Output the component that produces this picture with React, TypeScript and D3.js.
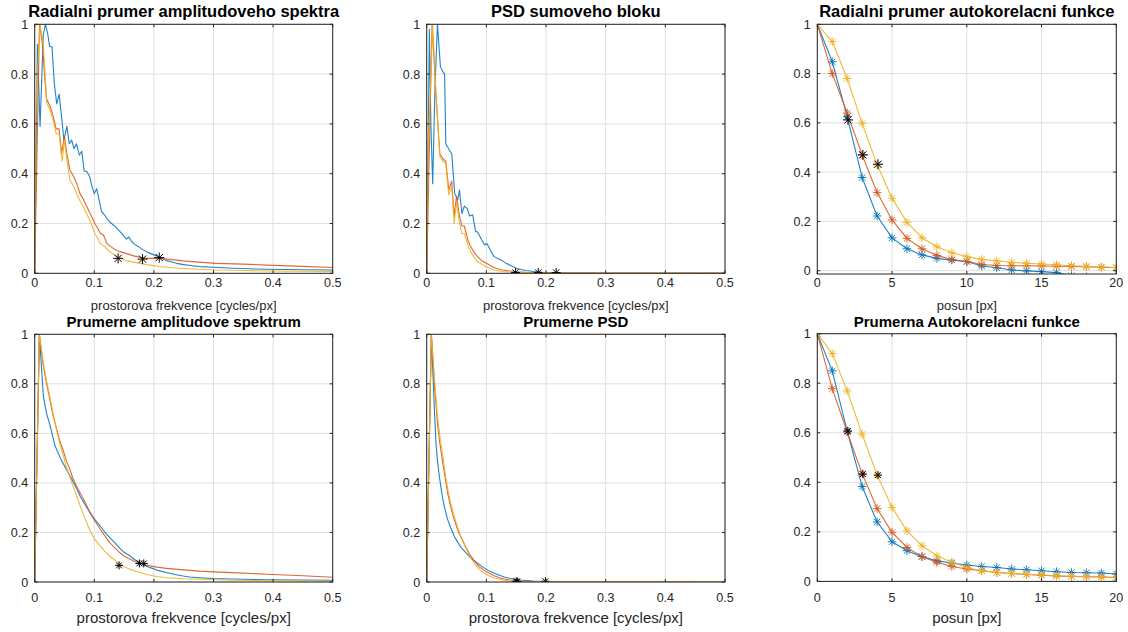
import React from 'react';
import * as d3 from 'd3';

type Pt = [number, number];

const BLUE = '#0072BD';
const RED = '#D95319';
const YELLOW = '#EDB120';
const FONT = '"Liberation Sans", Arial, Helvetica, sans-serif';

// ---------- Panel 1: Radialni prumer amplitudoveho spektra ----------
const ampRadBlue: Pt[] = [[0,0],[0.0045,0.92],[0.009,0.59],[0.0145,0.96],[0.018,1.0],[0.022,0.96],[0.025,0.91],[0.029,0.91],[0.033,0.76],[0.037,0.68],[0.041,0.72],[0.045,0.63],[0.049,0.535],[0.054,0.59],[0.058,0.52],[0.062,0.535],[0.066,0.50],[0.070,0.52],[0.075,0.475],[0.079,0.49],[0.083,0.41],[0.087,0.41],[0.092,0.39],[0.096,0.35],[0.100,0.32],[0.104,0.34],[0.108,0.295],[0.112,0.25],[0.117,0.235],[0.121,0.22],[0.125,0.21],[0.129,0.20],[0.134,0.19],[0.138,0.18],[0.142,0.17],[0.146,0.16],[0.150,0.148],[0.154,0.137],[0.158,0.146],[0.162,0.13],[0.166,0.12],[0.170,0.113],[0.174,0.107],[0.178,0.10],[0.182,0.094],[0.188,0.086],[0.194,0.08],[0.2,0.074],[0.205,0.07],[0.213,0.06],[0.221,0.051],[0.23,0.045],[0.238,0.04],[0.25,0.035],[0.265,0.03],[0.277,0.027],[0.3,0.024],[0.333,0.02],[0.36,0.018],[0.389,0.016],[0.42,0.015],[0.45,0.014],[0.5,0.013]];
const ampRadRed: Pt[] = [[0,0],[0.008,1.0],[0.013,0.92],[0.017,0.78],[0.02,0.70],[0.026,0.67],[0.031,0.63],[0.036,0.58],[0.041,0.58],[0.045,0.48],[0.050,0.55],[0.054,0.48],[0.059,0.415],[0.064,0.395],[0.068,0.375],[0.072,0.35],[0.076,0.32],[0.081,0.30],[0.085,0.28],[0.089,0.26],[0.093,0.24],[0.097,0.22],[0.101,0.20],[0.106,0.18],[0.110,0.16],[0.115,0.155],[0.118,0.14],[0.121,0.12],[0.126,0.11],[0.132,0.10],[0.138,0.092],[0.143,0.087],[0.15,0.082],[0.158,0.076],[0.166,0.07],[0.177,0.064],[0.188,0.06],[0.2,0.06],[0.210,0.06],[0.23,0.055],[0.249,0.05],[0.275,0.045],[0.305,0.04],[0.35,0.037],[0.389,0.033],[0.45,0.028],[0.5,0.023]];
const ampRadYellow: Pt[] = [[0,0],[0.0025,0.72],[0.009,1.0],[0.0145,0.92],[0.018,0.78],[0.02,0.685],[0.026,0.655],[0.031,0.615],[0.036,0.56],[0.041,0.56],[0.046,0.45],[0.050,0.535],[0.054,0.455],[0.059,0.375],[0.064,0.355],[0.068,0.335],[0.072,0.31],[0.076,0.29],[0.081,0.27],[0.085,0.25],[0.089,0.23],[0.093,0.21],[0.097,0.185],[0.101,0.16],[0.106,0.14],[0.110,0.12],[0.114,0.113],[0.118,0.107],[0.122,0.095],[0.126,0.087],[0.132,0.076],[0.138,0.067],[0.146,0.058],[0.154,0.051],[0.165,0.045],[0.177,0.04],[0.19,0.034],[0.21,0.027],[0.23,0.022],[0.249,0.019],[0.275,0.016],[0.305,0.013],[0.35,0.011],[0.389,0.009],[0.45,0.008],[0.5,0.007]];
const ampRadMarks: Pt[] = [[0.140,0.06],[0.181,0.057],[0.209,0.063]];

// ---------- Panel 2: PSD sumoveho bloku ----------
const psdRadBlue: Pt[] = [[0,0],[0.0045,0.98],[0.007,0.6],[0.010,0.36],[0.014,0.75],[0.018,1.0],[0.023,0.83],[0.027,0.81],[0.030,0.80],[0.032,0.52],[0.038,0.495],[0.042,0.48],[0.047,0.32],[0.052,0.295],[0.055,0.335],[0.059,0.24],[0.063,0.27],[0.068,0.26],[0.072,0.23],[0.077,0.235],[0.082,0.167],[0.085,0.167],[0.091,0.14],[0.097,0.114],[0.101,0.12],[0.108,0.087],[0.113,0.067],[0.12,0.058],[0.127,0.05],[0.133,0.04],[0.139,0.033],[0.145,0.026],[0.150,0.02],[0.158,0.015],[0.166,0.011],[0.18,0.007],[0.194,0.004],[0.22,0.002],[0.25,0.001],[0.35,0.0005],[0.5,0]];
const psdRadRed: Pt[] = [[0,0],[0.009,1.0],[0.016,0.70],[0.022,0.48],[0.027,0.46],[0.032,0.45],[0.037,0.335],[0.042,0.37],[0.046,0.23],[0.050,0.31],[0.055,0.23],[0.059,0.19],[0.063,0.19],[0.069,0.134],[0.073,0.11],[0.077,0.094],[0.081,0.08],[0.085,0.067],[0.090,0.056],[0.094,0.047],[0.1,0.04],[0.105,0.033],[0.11,0.026],[0.116,0.02],[0.127,0.013],[0.139,0.009],[0.15,0.006],[0.166,0.004],[0.2,0.002],[0.3,0.001],[0.5,0.001]];
const psdRadYellow: Pt[] = [[0,0],[0.0025,0.5],[0.010,1.0],[0.016,0.70],[0.022,0.47],[0.027,0.45],[0.032,0.44],[0.037,0.315],[0.042,0.35],[0.046,0.20],[0.050,0.285],[0.055,0.20],[0.059,0.16],[0.063,0.16],[0.069,0.114],[0.073,0.09],[0.077,0.074],[0.081,0.06],[0.085,0.047],[0.09,0.04],[0.094,0.033],[0.1,0.026],[0.105,0.02],[0.11,0.015],[0.116,0.011],[0.127,0.007],[0.139,0.005],[0.16,0.003],[0.2,0.001],[0.5,0]];
const psdRadMarks: Pt[] = [[0.149,0.003],[0.187,0.003],[0.217,0.003]];

// ---------- Panel 3: Radialni prumer autokorelacni funkce ----------
const lags = [0,1,2,3,4,5,6,7,8,9,10,11,12,13,14,15,16,17,18,19,20];
const acRadBlue = [1,0.848,0.625,0.378,0.222,0.133,0.089,0.064,0.05,0.043,0.037,0.019,0.012,0.003,-0.001,-0.004,-0.008,-0.02,-0.025,-0.03,-0.03];
const acRadRed = [1,0.80,0.64,0.47,0.317,0.206,0.131,0.089,0.062,0.045,0.037,0.025,0.021,0.02,0.02,0.019,0.018,0.017,0.016,0.014,0.013];
const acRadYellow = [1,0.93,0.78,0.598,0.43,0.294,0.196,0.134,0.097,0.073,0.057,0.046,0.04,0.034,0.03,0.027,0.024,0.02,0.018,0.015,0.013];
const acRadMarks: Pt[] = [[2.05,0.612],[3.05,0.47],[4.06,0.432]];

// ---------- Panel 4: Prumerne amplitudove spektrum ----------
const ampMeanBlue: Pt[] = [[0,0],[0.0078,1.0],[0.0145,0.75],[0.02,0.68],[0.026,0.63],[0.034,0.55],[0.045,0.49],[0.059,0.43],[0.07,0.38],[0.076,0.347],[0.085,0.31],[0.093,0.28],[0.1,0.255],[0.110,0.226],[0.118,0.2],[0.126,0.179],[0.135,0.157],[0.143,0.136],[0.15,0.12],[0.160,0.105],[0.168,0.09],[0.177,0.078],[0.185,0.067],[0.194,0.058],[0.205,0.048],[0.221,0.038],[0.235,0.03],[0.249,0.024],[0.26,0.02],[0.277,0.017],[0.3,0.014],[0.333,0.012],[0.389,0.009],[0.45,0.008],[0.5,0.007]];
const ampMeanRed: Pt[] = [[0,0],[0.0078,1.0],[0.0145,0.87],[0.02,0.80],[0.026,0.73],[0.031,0.67],[0.037,0.616],[0.042,0.57],[0.048,0.53],[0.053,0.49],[0.059,0.455],[0.064,0.42],[0.070,0.388],[0.076,0.36],[0.082,0.334],[0.088,0.305],[0.093,0.28],[0.1,0.25],[0.110,0.213],[0.118,0.185],[0.126,0.159],[0.135,0.137],[0.143,0.118],[0.150,0.105],[0.160,0.092],[0.168,0.083],[0.177,0.075],[0.185,0.07],[0.194,0.065],[0.205,0.06],[0.221,0.055],[0.25,0.049],[0.277,0.044],[0.3,0.041],[0.333,0.038],[0.389,0.031],[0.45,0.025],[0.5,0.019]];
const ampMeanYellow: Pt[] = [[0,0],[0.0078,1.0],[0.0145,0.885],[0.02,0.81],[0.026,0.74],[0.031,0.68],[0.037,0.61],[0.042,0.56],[0.048,0.51],[0.053,0.465],[0.059,0.425],[0.064,0.39],[0.070,0.35],[0.076,0.31],[0.082,0.27],[0.088,0.235],[0.093,0.206],[0.1,0.175],[0.110,0.145],[0.118,0.123],[0.126,0.105],[0.135,0.087],[0.143,0.071],[0.150,0.062],[0.160,0.051],[0.168,0.044],[0.177,0.038],[0.185,0.032],[0.194,0.027],[0.205,0.022],[0.221,0.017],[0.25,0.013],[0.277,0.011],[0.333,0.007],[0.4,0.005],[0.5,0.003]];
const ampMeanMarks: Pt[] = [[0.1415,0.067],[0.1756,0.075],[0.183,0.075]];

// ---------- Panel 5: Prumerne PSD ----------
const psdMeanBlue: Pt[] = [[0,0],[0.0078,1.0],[0.0128,0.70],[0.0156,0.56],[0.018,0.49],[0.021,0.43],[0.024,0.38],[0.027,0.334],[0.031,0.29],[0.035,0.253],[0.04,0.22],[0.046,0.186],[0.052,0.16],[0.058,0.139],[0.065,0.12],[0.072,0.102],[0.08,0.085],[0.088,0.071],[0.096,0.057],[0.105,0.044],[0.113,0.035],[0.122,0.027],[0.13,0.02],[0.139,0.015],[0.147,0.011],[0.155,0.008],[0.166,0.006],[0.178,0.004],[0.2,0.002],[0.222,0.001],[0.3,0.0005],[0.5,0]];
const psdMeanRed: Pt[] = [[0,0],[0.0078,1.0],[0.0128,0.805],[0.018,0.64],[0.022,0.56],[0.027,0.48],[0.031,0.42],[0.035,0.36],[0.04,0.305],[0.046,0.253],[0.052,0.21],[0.058,0.179],[0.065,0.143],[0.072,0.112],[0.08,0.085],[0.088,0.062],[0.096,0.047],[0.105,0.035],[0.113,0.025],[0.122,0.0175],[0.13,0.012],[0.139,0.008],[0.155,0.004],[0.18,0.002],[0.25,0.001],[0.5,0]];
const psdMeanYellow: Pt[] = [[0,0],[0.0078,1.0],[0.0128,0.83],[0.018,0.67],[0.022,0.59],[0.027,0.51],[0.031,0.44],[0.035,0.38],[0.04,0.32],[0.046,0.266],[0.052,0.22],[0.058,0.179],[0.065,0.14],[0.072,0.105],[0.08,0.075],[0.088,0.051],[0.096,0.036],[0.105,0.024],[0.113,0.016],[0.122,0.011],[0.13,0.007],[0.139,0.004],[0.155,0.002],[0.2,0.001],[0.5,0]];
const psdMeanMarks: Pt[] = [[0.150,0.003],[0.152,0.002],[0.199,0.003]];

// ---------- Panel 6: Prumerna Autokorelacni funkce ----------
const acMeanBlue = [1,0.85,0.607,0.383,0.24,0.16,0.124,0.10,0.083,0.074,0.066,0.06,0.056,0.05,0.047,0.043,0.039,0.036,0.035,0.034,0.03];
const acMeanRed = [1,0.778,0.603,0.435,0.294,0.198,0.137,0.10,0.077,0.06,0.05,0.043,0.036,0.032,0.028,0.025,0.022,0.02,0.019,0.018,0.016];
const acMeanYellow = [1,0.92,0.769,0.594,0.43,0.298,0.204,0.144,0.103,0.077,0.056,0.043,0.036,0.032,0.029,0.026,0.023,0.021,0.02,0.018,0.016];
const acMeanMarks: Pt[] = [[2.05,0.607],[3.05,0.433],[4.06,0.429]];

// ---------- Axis ticks & labels ----------
const freqTicks = [0, 0.1, 0.2, 0.3, 0.4, 0.5];
const lagTicks = [0, 5, 10, 15, 20];
const valueTicks = [0, 0.2, 0.4, 0.6, 0.8, 1];
const titles = [
  'Radialni prumer amplitudoveho spektra',
  'PSD sumoveho bloku',
  'Radialni prumer autokorelacni funkce',
  'Prumerne amplitudove spektrum',
  'Prumerne PSD',
  'Prumerna Autokorelacni funkce',
];
const freqLabel = 'prostorova frekvence [cycles/px]';
const lagLabel = 'posun [px]';

const toPts = (xs: number[], ys: number[]): Pt[] => xs.map((v, i) => [v, ys[i]] as Pt);

function asterisk(r: number) {
  const d = r * 0.72;
  return `M${-r},0L${r},0M0,${-r}L0,${r}M${-d},${-d}L${d},${d}M${-d},${d}L${d},${-d}`;
}

type Series = { pts: Pt[]; color: string; marker?: boolean };

type PanelProps = {
  id: string;
  left: number; top: number; width: number; height: number;
  xDomain: [number, number]; yDomain: [number, number];
  xTicks: number[]; yTicks: number[];
  title: string; titleSize: number; titleY: number;
  xlabel: string; xlabelSize: number; xlabelY: number;
  tickSize: number; xTickY: number;
  series: Series[];
  marks: Pt[]; markR: number; seriesMarkR: number;
};

function Panel(p: PanelProps) {
  const x = d3.scaleLinear().domain(p.xDomain).range([p.left, p.left + p.width]);
  const y = d3.scaleLinear().domain(p.yDomain).range([p.top + p.height, p.top]);
  const line = d3.line<Pt>().x(d => x(d[0])).y(d => y(d[1]));
  const cx = p.left + p.width / 2;
  const bottom = p.top + p.height;
  const right = p.left + p.width;
  const tl = 3;
  const axisColor = '#262626';
  return (
    <g>
      <defs>
        <clipPath id={p.id}>
          <rect x={p.left} y={p.top} width={p.width} height={p.height} />
        </clipPath>
      </defs>
      {p.xTicks.map(t => (
        <line key={'gx' + t} x1={x(t)} x2={x(t)} y1={p.top} y2={bottom} stroke="#dedede" strokeWidth={1} />
      ))}
      {p.yTicks.map(t => (
        <line key={'gy' + t} x1={p.left} x2={right} y1={y(t)} y2={y(t)} stroke="#dedede" strokeWidth={1} />
      ))}
      <g clipPath={`url(#${p.id})`}>
        {p.series.map((s, i) => (
          <g key={'s' + i}>
            <path d={line(s.pts) || ''} fill="none" stroke={s.color} strokeOpacity={0.88} strokeWidth={1.1} strokeLinejoin="round" />
            {s.marker && s.pts.map((d, j) => (
              <path key={j} d={asterisk(p.seriesMarkR)} transform={`translate(${x(d[0])},${y(d[1])})`} stroke={s.color} strokeOpacity={0.9} strokeWidth={1} fill="none" />
            ))}
          </g>
        ))}
        {p.marks.map((d, j) => (
          <path key={'m' + j} d={asterisk(p.markR)} transform={`translate(${x(d[0])},${y(d[1])})`} stroke="#000" strokeWidth={1} fill="none" />
        ))}
      </g>
      <rect x={p.left} y={p.top} width={p.width} height={p.height} fill="none" stroke={axisColor} strokeWidth={1} />
      {p.xTicks.map(t => (
        <g key={'tx' + t}>
          <line x1={x(t)} x2={x(t)} y1={bottom} y2={bottom - tl} stroke={axisColor} />
          <line x1={x(t)} x2={x(t)} y1={p.top} y2={p.top + tl} stroke={axisColor} />
          <text x={x(t)} y={p.xTickY} textAnchor="middle" fontSize={p.tickSize} fill="#262626" fontFamily={FONT}>{String(t)}</text>
        </g>
      ))}
      {p.yTicks.map(t => (
        <g key={'ty' + t}>
          <line x1={p.left} x2={p.left + tl} y1={y(t)} y2={y(t)} stroke={axisColor} />
          <line x1={right} x2={right - tl} y1={y(t)} y2={y(t)} stroke={axisColor} />
          <text x={p.left - 6.5} y={y(t)} dy="0.36em" textAnchor="end" fontSize={p.tickSize} fill="#262626" fontFamily={FONT}>{String(t)}</text>
        </g>
      ))}
      <text x={cx} y={p.titleY} textAnchor="middle" fontSize={p.titleSize} fontWeight="bold" fill="#000" fontFamily={FONT}>{p.title}</text>
      <text x={cx} y={p.xlabelY} textAnchor="middle" fontSize={p.xlabelSize} fill="#262626" fontFamily={FONT}>{p.xlabel}</text>
    </g>
  );
}

export default function App() {
  const colLeft = [34.7, 426.7, 817.3];
  const colWidth = [298, 298.3, 299];
  const topRow = { top: 24.3, height: 249, titleSize: 16.5, titleY: 16.5, xlabelSize: 13, xlabelY: 310, tickSize: 12.5, xTickY: 286.5 };
  const botRow = { top: 334.3, height: 247.7, titleSize: 15, titleY: 326.5, xlabelSize: 15, xlabelY: 622.5, tickSize: 12.5, xTickY: 602 };

  const panels: PanelProps[] = [
    {
      id: 'c1', left: colLeft[0], width: colWidth[0], ...topRow,
      xDomain: [0, 0.5], yDomain: [0, 1], xTicks: freqTicks, yTicks: valueTicks,
      title: titles[0], xlabel: freqLabel,
      series: [{ pts: ampRadBlue, color: BLUE }, { pts: ampRadRed, color: RED }, { pts: ampRadYellow, color: YELLOW }],
      marks: ampRadMarks, markR: 5, seriesMarkR: 4,
    },
    {
      id: 'c2', left: colLeft[1], width: colWidth[1], ...topRow,
      xDomain: [0, 0.5], yDomain: [0, 1], xTicks: freqTicks, yTicks: valueTicks,
      title: titles[1], xlabel: freqLabel,
      series: [{ pts: psdRadBlue, color: BLUE }, { pts: psdRadRed, color: RED }, { pts: psdRadYellow, color: YELLOW }],
      marks: psdRadMarks, markR: 4.5, seriesMarkR: 4,
    },
    {
      id: 'c3', left: colLeft[2], width: colWidth[2], ...topRow, height: 249.7,
      xDomain: [0, 20], yDomain: [-0.0135, 1], xTicks: lagTicks, yTicks: valueTicks,
      title: titles[2], xlabel: lagLabel,
      series: [
        { pts: toPts(lags, acRadBlue), color: BLUE, marker: true },
        { pts: toPts(lags, acRadRed), color: RED, marker: true },
        { pts: toPts(lags, acRadYellow), color: YELLOW, marker: true },
      ],
      marks: acRadMarks, markR: 5, seriesMarkR: 4.3,
    },
    {
      id: 'c4', left: colLeft[0], width: colWidth[0], ...botRow,
      xDomain: [0, 0.5], yDomain: [0, 1], xTicks: freqTicks, yTicks: valueTicks,
      title: titles[3], xlabel: freqLabel,
      series: [{ pts: ampMeanBlue, color: BLUE }, { pts: ampMeanRed, color: RED }, { pts: ampMeanYellow, color: YELLOW }],
      marks: ampMeanMarks, markR: 4, seriesMarkR: 4,
    },
    {
      id: 'c5', left: colLeft[1], width: colWidth[1], ...botRow,
      xDomain: [0, 0.5], yDomain: [0, 1], xTicks: freqTicks, yTicks: valueTicks,
      title: titles[4], xlabel: freqLabel,
      series: [{ pts: psdMeanBlue, color: BLUE }, { pts: psdMeanRed, color: RED }, { pts: psdMeanYellow, color: YELLOW }],
      marks: psdMeanMarks, markR: 4, seriesMarkR: 4,
    },
    {
      id: 'c6', left: colLeft[2], width: colWidth[2], ...botRow, top: 333.7,
      xDomain: [0, 20], yDomain: [0, 1], xTicks: lagTicks, yTicks: valueTicks,
      title: titles[5], xlabel: lagLabel,
      series: [
        { pts: toPts(lags, acMeanBlue), color: BLUE, marker: true },
        { pts: toPts(lags, acMeanRed), color: RED, marker: true },
        { pts: toPts(lags, acMeanYellow), color: YELLOW, marker: true },
      ],
      marks: acMeanMarks, markR: 4, seriesMarkR: 4.3,
    },
  ];

  return (
    <svg width={1128} height={632} viewBox="0 0 1128 632" style={{ position: 'absolute', left: 0, top: 0, background: '#fff', display: 'block' }}>
      <rect x={0} y={0} width={1128} height={632} fill="#fff" />
      {panels.map(p => <Panel key={p.id} {...p} />)}
    </svg>
  );
}
